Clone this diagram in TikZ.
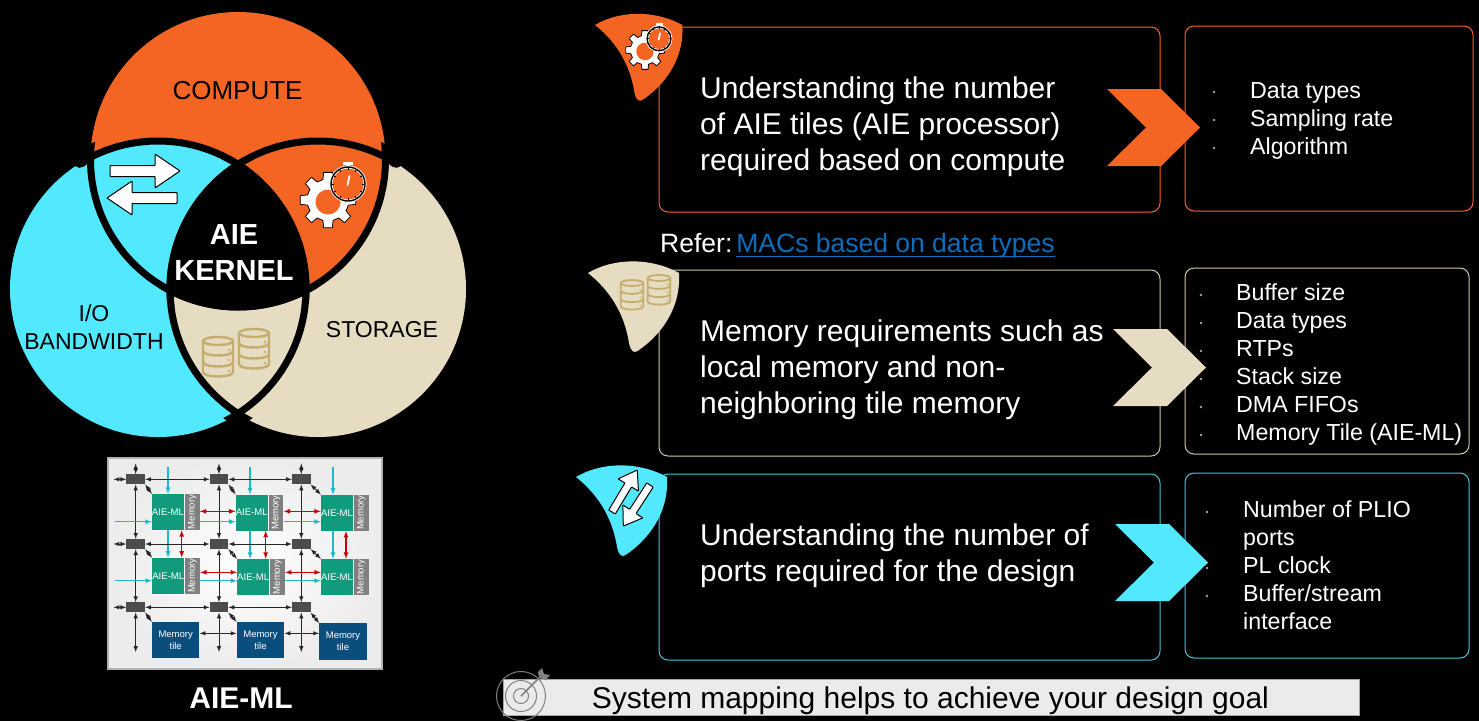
\documentclass[tikz,border=0pt]{standalone}
\usepackage{fontspec}
\setmainfont{Liberation Sans}
\usetikzlibrary{positioning}

\definecolor{cOrange}{HTML}{F46524}
\definecolor{cCyan}{HTML}{52E9FF}
\definecolor{cBeige}{HTML}{E5DCC2}
\definecolor{cGold}{HTML}{C4AD6E}
\definecolor{cLink}{HTML}{0A6EBD}
\definecolor{cTeal}{HTML}{129A7C}
\definecolor{cArrow}{HTML}{1DB9C9}
\definecolor{cNavy}{HTML}{0A4E7E}

\newcommand{\fsize}[1]{\fontsize{#1}{#1}\selectfont}

\newcommand{\petal}[4]{
	\fill[#1,shift={(#2,#3)},scale=#4] (0,0) .. controls (25,-15) and (62,-16) .. (91,0)
		.. controls (93,30) and (78,58) .. (51,77) .. controls (46,81) and (43,79) .. (41,70)
		.. controls (36,38) and (20,16) .. (0,0) -- cycle;
}
\newcommand{\chevron}[3]{
	\fill[#1,shift={(#2,#3)}] (0,0) -- (54,0) -- (93,38.5) -- (54,77) -- (0,77) -- (39,38.5) -- cycle;
}
\newcommand{\flowarrow}[4]{
	\draw[fill=white,draw=black,line width=1pt,rounded corners=0.6pt,shift={(#1,#2)},rotate=#3,scale=#4]
		(0,-5.5) -- (45,-5.5) -- (45,-17) -- (70,0) -- (45,17) -- (45,5.5) -- (0,5.5) -- cycle;
}
\newcommand{\dbstack}[4]{
	\begin{scope}[shift={(#1,#2)},scale=#3,draw=cGold,line width=#4]
		\draw (0,4) ellipse (15 and 4);
		\draw (-15,4) -- (-15,35) .. controls (-15,41) and (15,41) .. (15,35) -- (15,4);
		\draw (-15,14) .. controls (-15,20) and (15,20) .. (15,14);
		\draw (-15,25) .. controls (-15,31) and (15,31) .. (15,25);
		\foreach \dy in {13,23,34}
			\fill[cGold] (11,\dy) circle (1.3);
	\end{scope}
}
\newcommand{\gearclock}[3]{
	\begin{scope}[shift={(#1,#2)},scale=#3]
		\draw[fill=white,draw=black,line width=0.8pt,line join=round] (-14:21)
			\foreach \a in {0,45,...,315}{ -- (\a-14:21) -- (\a-9:28) -- (\a+9:28) -- (\a+14:21)} -- cycle;
		\fill[cOrange] (0,2) circle (12.5);
		\begin{scope}[shift={(20,-16)}]
			\fill[white] (-5,-22) rectangle (5,-19);
			\fill[white] (-2,-19) rectangle (2,-16);
			\draw[fill=cOrange,draw=white,line width=3pt] (0,0) circle (17);
			\draw[black,line width=1.4pt] (0,0) circle (17);
			\foreach \t in {0,30,...,330}
				\draw[black,line width=0.8pt] (\t:14) -- (\t:16);
			\draw[white,line width=1.8pt,line cap=round] (-0.5,1) -- (1.5,-8);
		\end{scope}
	\end{scope}
}

\begin{document}
\begin{tikzpicture}[x=1pt,y=-1pt,>=latex,
	mainbox/.style={rounded corners=9pt,line width=1pt,fill=none},
	mainline/.style={anchor=west,align=left,text=white,inner sep=0pt,font=\fontsize{30}{36}\selectfont},
	listline/.style={anchor=west,align=left,text=white,inner sep=0pt,font=\fontsize{23.2}{28}\selectfont},
	venntext/.style={black,align=center,inner sep=0pt},
	bulletdot/.style={fill=gray!70},
	switchbox/.style={fill=black!70,minimum width=18.5pt,minimum height=10pt,inner sep=0pt},
	aietile/.style={fill=cTeal,text=white,minimum width=32pt,minimum height=36pt,inner sep=0pt,font=\fsize{9.6}},
	memstrip/.style={fill=gray,text=white,minimum width=14.5pt,minimum height=36pt,inner sep=0pt,font=\fsize{9.5}},
	memtile/.style={fill=cNavy,text=white,align=center,minimum width=47.5pt,minimum height=36.5pt,inner sep=0pt,font=\fontsize{9.5}{12}\selectfont},
	gridline/.style={<->,black!85,line width=1pt},
	feedline/.style={->,cArrow,line width=1.2pt},
	linkline/.style={<->,red!80!black,line width=1.2pt},
	targetline/.style={draw=gray,line width=1pt}]

	\fill[black] (0,0) rectangle (1479,721);
	\useasboundingbox (0,0) rectangle (1479,721);

	\coordinate (cT) at (238,159.5);
	\coordinate (cL) at (158,289);
	\coordinate (cR) at (318,289);
	\def\rT{147.5}
	\def\rV{148}

	\fill[cCyan] (cL) circle (\rV);
	\fill[cBeige] (cR) circle (\rV);
	\fill[cOrange] (cT) circle (\rT);
	\begin{scope}
		\clip (cT) circle (\rT);
		\fill[cCyan] (cL) circle (\rV);
		\fill[cOrange] (cR) circle (\rV);
		\clip (cL) circle (\rV);
		\fill[black] (cR) circle (\rV);
	\end{scope}
	\foreach \ca/\ra/\cb/\rb in {cT/\rT/cL/\rV, cT/\rT/cR/\rV, cL/\rV/cT/\rT, cL/\rV/cR/\rV, cR/\rV/cT/\rT, cR/\rV/cL/\rV}{
		\begin{scope}
			\clip (\cb) circle (\rb+12);
			\draw[black,line width=7pt] (\ca) circle (\ra);
		\end{scope}
	}
	\foreach \nx/\ny in {80/159,396/159,238/424}
		\fill[black] (\nx,\ny) circle (8.5);

	\node[venntext,font=\fsize{26}] (compute) at (237.5,91) {COMPUTE};
	\node[venntext,font=\fontsize{23}{28}\selectfont] (bandwidth) at (94,327) {I/O\\BANDWIDTH};
	\node[venntext,font=\fsize{23}] (storage) at (382,330) {STORAGE};
	\node[align=center,text=white,inner sep=0pt,font=\bfseries\fontsize{29}{36}\selectfont] (kernel) at (234,252.5) {AIE\\KERNEL};

	\flowarrow{110}{171}{0}{1}
	\flowarrow{177}{198}{180}{1}
	\gearclock{328}{200}{1}
	\dbstack{218}{337}{1}{2.4pt}
	\dbstack{254}{329}{1}{2.4pt}

	\node[draw=gray!60,line width=1.2pt,inner color=white,outer color=gray!15,minimum width=274pt,minimum height=211pt] (chipbg) at (245,563.5) {};
	\foreach \c/\cx in {1/135.7,2/219,3/301.3}
		\foreach \r/\cy in {1/479.3,2/544,3/607.3}
			\node[switchbox] (sw\r\c) at (\cx,\cy) {};
	\foreach \n/\cx/\cy in {11/168/512,12/251.8/512.5,13/337/512.8,21/168.3/575.8,22/253.2/577,23/337/577}{
		\node[aietile] (tile\n) at (\cx,\cy) {AIE-ML};
		\node[memstrip] (mem\n) [right=0.7pt of tile\n] {\rotatebox{90}{Memory}};
	}
	\node[memtile] (mtile1) at (175.7,640.2) {Memory\\tile};
	\node[memtile] (mtile2) at (260.5,640.2) {Memory\\tile};
	\node[memtile] (mtile3) at (343,641.5) {Memory\\tile};

	\foreach \c/\cx/\tx/\rx in {1/135.7/168/181.7,2/219/250/265.7,3/301.3/333/346}{
		\coordinate (top\c) at (\cx,463.5);
		\coordinate (bot\c) at (\cx,652);
		\coordinate (in\c) at (\tx,467);
		\coordinate (tx\c) at (\tx,0);
		\coordinate (rx\c) at (\rx,0);
		\draw[gridline] (top\c) -- (sw1\c);
		\draw[gridline] (sw1\c) -- (sw2\c);
		\draw[gridline] (sw2\c) -- (sw3\c);
		\draw[gridline] (sw3\c) -- (bot\c);
		\draw[gridline] (sw1\c.south east) -- (tile1\c.north west);
		\draw[gridline] (sw2\c.south east) -- (tile2\c.north west);
		\draw[gridline] (sw3\c.south east) -- (mtile\c.north west);
		\draw[feedline] (in\c) -- (tx\c |- tile1\c.north);
		\draw[feedline] (tx\c |- tile1\c.south) -- (tx\c |- tile2\c.north);
		\draw[linkline] (rx\c |- tile1\c.south) -- (rx\c |- tile2\c.north);
	}
	\foreach \r/\cy/\fy/\ry in {1/479.3/521.7/511.3,2/544/580.7/572.3,3/607.3/0/0}{
		\coordinate (lft\r) at (113.5,\cy);
		\draw[gridline] (lft\r) -- (sw\r1);
		\draw[gridline] (sw\r1) -- (sw\r2);
		\draw[gridline] (sw\r2) -- (sw\r3);
		\coordinate (fy\r) at (0,\fy);
		\coordinate (ry\r) at (0,\ry);
		\coordinate (fin\r) at (115,\fy);
	}
	\foreach \r in {1,2}{
		\draw[feedline] (fin\r) -- (tile\r1.west |- fy\r);
		\draw[feedline] (mem\r1.east |- fy\r) -- (tile\r2.west |- fy\r);
		\draw[feedline] (mem\r2.east |- fy\r) -- (tile\r3.west |- fy\r);
		\draw[linkline] (mem\r1.east |- ry\r) -- (tile\r2.west |- ry\r);
		\draw[linkline] (mem\r2.east |- ry\r) -- (tile\r3.west |- ry\r);
	}
	\coordinate (my) at (0,633.3);
	\draw[gridline] (mtile1.east |- my) -- (mtile2.west |- my);
	\draw[gridline] (mtile2.east |- my) -- (mtile3.west |- my);
	\node[text=white,inner sep=0pt,font=\bfseries\fsize{30}] (chipname) at (241,698) {AIE-ML};

	\draw[mainbox,draw=cOrange] (659,27) rectangle (1160,212);
	\draw[mainbox,draw=cOrange] (1185,26) rectangle (1473,211);
	\draw[mainbox,draw=cBeige!90!black] (659,270) rectangle (1160,456);
	\draw[mainbox,draw=cBeige!90!black] (1185,268) rectangle (1469,454);
	\draw[mainbox,draw=cCyan!85!black] (659,474) rectangle (1160,660);
	\draw[mainbox,draw=cCyan!85!black] (1185,473) rectangle (1469,658);

	\petal{cOrange}{595}{25}{0.96}
	\petal{cBeige}{588}{273}{1}
	\petal{cCyan}{576}{477}{1}
	\gearclock{645}{50}{0.7}
	\dbstack{632}{280}{0.75}{1.8pt}
	\dbstack{659}{275}{0.75}{1.8pt}
	\flowarrow{612}{512}{59}{0.7}
	\flowarrow{650}{485}{-123}{0.7}

	\chevron{cOrange}{1107}{89}
	\chevron{cBeige}{1113}{329}
	\chevron{cCyan}{1115}{524}

	\node[mainline] (text1) at (700,127) {Understanding the number\\of AIE tiles (AIE processor)\\required based on compute};
	\node[mainline] (text2) at (700,370) {Memory requirements such as\\local memory and non-\\neighboring tile memory};
	\node[mainline] (text3) at (700,556) {Understanding the number of\\ports required for the design};

	\node[listline] (list1) at (1250,120.5) {Data types\\Sampling rate\\Algorithm};
	\node[listline] (list2) at (1236,364) {Buffer size\\Data types\\RTPs\\Stack size\\DMA FIFOs\\Memory Tile (AIE-ML)};
	\node[listline] (list3) at (1243,565) {Number of PLIO\\ports\\PL clock\\Buffer/stream\\interface};
	\foreach \y in {92,120,148}
		\fill[bulletdot] (1214,\y) circle (1.4);
	\foreach \y in {295,323,351,379,407,435}
		\fill[bulletdot] (1201,\y) circle (1.4);
	\foreach \y in {512,568,596}
		\fill[bulletdot] (1207,\y) circle (1.4);

	\node[anchor=west,text=white,inner sep=0pt,font=\fsize{26.5}] (refer) at (660,245) {Refer:\hspace{4pt}\textcolor{cLink}{\underline{\raisebox{0pt}[0pt][2pt]{MACs based on data types}}}};

	\draw[fill=black!8,draw=gray!70,line width=0.8pt] (503,679.5) rectangle (1359,715);
	\node[text=black,inner sep=0pt,font=\fsize{30}] (goal) at (930.5,701) {System mapping helps to achieve your design goal};
	\coordinate (aim) at (521,696);
	\draw[targetline] (aim) circle (24.5);
	\draw[targetline] (aim) circle (15.5);
	\draw[targetline] (aim) circle (7.5);
	\coordinate (tipend) at (539,678);
	\draw[gray,line width=1.6pt] (aim) -- (tipend);
	\fill[gray] (tipend) -- (538,672) -- (542,668) -- (544,674) -- (550,675) -- (546,680) -- cycle;
\end{tikzpicture}
\end{document}
